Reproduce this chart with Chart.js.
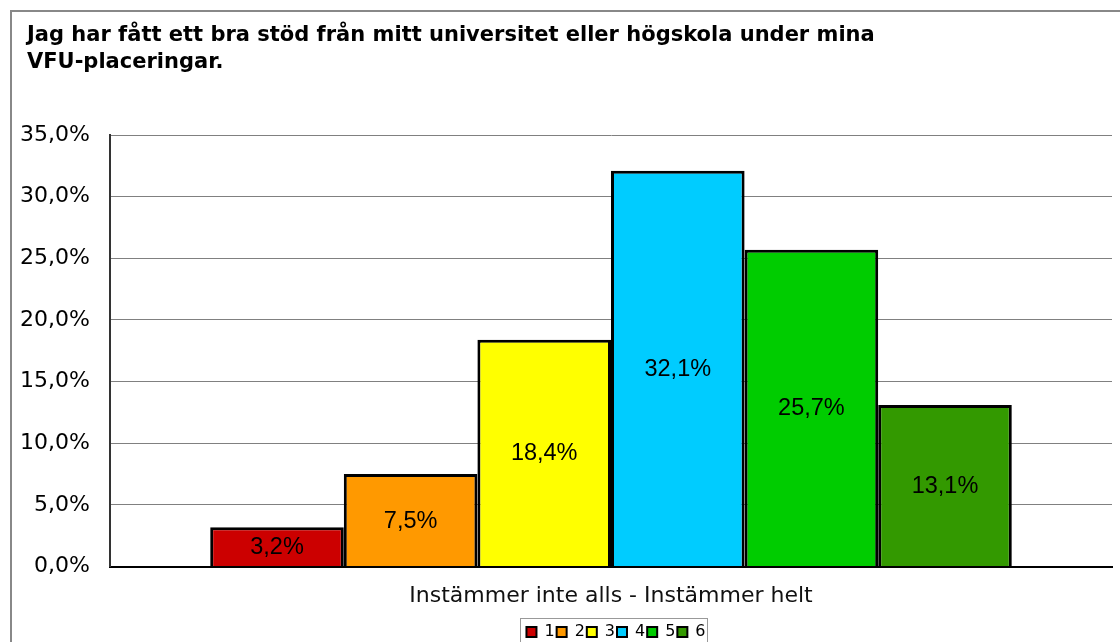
<!DOCTYPE html>
<html>
<head>
<meta charset="utf-8">
<script src="https://cdn.jsdelivr.net/npm/chart.js@4/dist/chart.umd.min.js"></script>
<style>
  html, body { margin: 0; padding: 0; background: #fff; }
  #wrap { width: 1120px; height: 642px; position: relative; }
</style>
</head>
<body>
<div id="wrap"><canvas id="grafico"></canvas></div>
<script>
// datos del grafico
var titulo = ['Jag har fått ett bra stöd från mitt universitet eller högskola under mina', 'VFU-placeringar.'];
var categorias = ['Instämmer inte alls - Instämmer helt'];
var series = ['1', '2', '3', '4', '5', '6'];
var valores = [3.2, 7.5, 18.4, 32.1, 25.7, 13.1];
var colores = ['#CC0000', '#FF9900', '#FFFF00', '#00CCFF', '#00CC00', '#339900'];
var ticksY = [0, 5, 10, 15, 20, 25, 30, 35];

function pct(v) { return v.toFixed(1).replace('.', ',') + '%'; }

// marco y titulo
var marco = {
  id: 'marco',
  beforeDraw: function (chart) {
    var ctx = chart.ctx;
    ctx.save();
    ctx.fillStyle = '#fff';
    ctx.fillRect(0, 0, chart.width, chart.height);
    ctx.strokeStyle = '#888';
    ctx.lineWidth = 2;
    ctx.beginPath();
    ctx.moveTo(11, chart.height);
    ctx.lineTo(11, 11);
    ctx.lineTo(chart.width, 11);
    ctx.stroke();
    ctx.fillStyle = '#000';
    ctx.font = 'bold 21px "DejaVu Sans"';
    ctx.textBaseline = 'alphabetic';
    ctx.fillText(titulo[0], 27, 41);
    ctx.fillText(titulo[1], 27, 68);
    ctx.restore();
  }
};

// etiquetas dentro de las barras + leyenda centrada bajo el area del grafico
var etiquetas = {
  id: 'etiquetas',
  afterUpdate: function (chart) {
    var lg = chart.legend, ca = chart.chartArea;
    var dx = (ca.left + ca.right) / 2 + 5 - (lg.left + lg.right) / 2;
    var dy = 636 - (lg.top + lg.bottom) / 2;
    lg.left += dx; lg.right += dx;
    lg.top += dy; lg.bottom += dy;
    lg.legendHitBoxes.forEach(function (h) { h.left += dx; h.top += dy; });
  },
  afterDatasetsDraw: function (chart) {
    var ctx = chart.ctx;
    ctx.save();
    ctx.font = '23.5px "Liberation Sans"';
    ctx.fillStyle = '#000';
    ctx.textAlign = 'center';
    ctx.textBaseline = 'middle';
    chart.data.datasets.forEach(function (ds, i) {
      var bar = chart.getDatasetMeta(i).data[0];
      ctx.fillText(pct(ds.data[0]), bar.x, (bar.y + bar.base) / 2 + 1);
    });
    ctx.restore();
  },
  afterDraw: function (chart) {
    var hb = chart.legend.legendHitBoxes;
    if (!hb || !hb.length) return;
    var x0 = hb[0].left - 6, x1 = hb[hb.length - 1].left + hb[hb.length - 1].width + 2;
    var yc = 630;
    var ctx = chart.ctx;
    ctx.save();
    ctx.strokeStyle = '#999';
    ctx.lineWidth = 1;
    ctx.strokeRect(Math.round(x0) + 0.5, Math.round(yc - 12) + 0.5, Math.round(x1 - x0), 24);
    ctx.restore();
  }
};

var datasets = series.map(function (s, i) {
  return {
    label: s,
    data: [valores[i]],
    backgroundColor: colores[i],
    borderColor: '#000',
    borderWidth: 3,
    barPercentage: 1.0,
    categoryPercentage: 0.8
  };
});

new Chart(document.getElementById('grafico'), {
  type: 'bar',
  data: { labels: categorias, datasets: datasets },
  plugins: [marco, etiquetas],
  options: {
    responsive: true,
    maintainAspectRatio: false,
    animation: false,
    layout: { padding: { top: 135, right: 8, bottom: 0, left: 0 } },
    plugins: {
      legend: {
        position: 'bottom',
        labels: {
          boxWidth: 10,
          boxHeight: 10,
          padding: 2,
          color: '#000',
          font: { family: 'DejaVu Sans', size: 16 },
          generateLabels: function (chart) {
            return chart.data.datasets.map(function (ds, i) {
              return { text: ds.label, fillStyle: ds.backgroundColor, strokeStyle: '#000', lineWidth: 2, datasetIndex: i, fontColor: '#000' };
            });
          }
        }
      },
      tooltip: { enabled: false }
    },
    scales: {
      x: {
        ticks: { display: false },
        grid: { display: false, drawTicks: false },
        border: { color: '#000', width: 2 },
        title: {
          display: true,
          text: categorias[0],
          color: '#111',
          font: { family: 'DejaVu Sans', size: 22 },
          padding: { top: 16, bottom: 5 }
        }
      },
      y: {
        min: 0,
        max: 35,
        afterBuildTicks: function (axis) {
          axis.ticks = ticksY.map(function (v) { return { value: v }; });
        },
        afterFit: function (axis) { axis.width = 110; },
        ticks: {
          color: '#000',
          padding: 20,
          font: { family: 'DejaVu Sans', size: 22 },
          callback: function (v) { return pct(v); }
        },
        grid: { color: '#808080', lineWidth: 1, tickLength: 0 },
        border: { color: '#333', width: 2 }
      }
    }
  }
});
</script>
</body>
</html>
